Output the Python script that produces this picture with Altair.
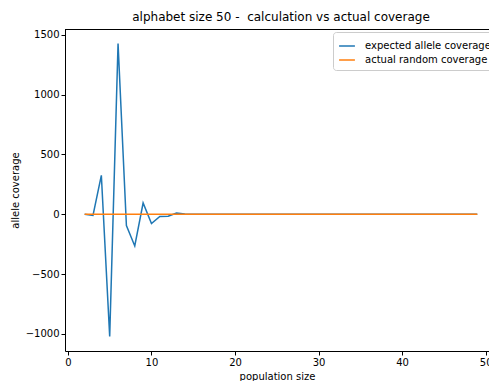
import altair as alt
import pandas as pd

population = list(range(2, 50))
expected = [0, -10, 325, -1020, 1425, -95, -265, 94, -78, -19, -17, 11, 2,
            0, 0, 0, 0, 0, 0, 0, 0, 0, 0, 0, 0, 0, 0, 0, 0, 0, 0, 0, 0, 0, 0,
            0, 0, 0, 0, 0, 0, 0, 0, 0, 0, 0, 0, 0]
actual = [0.04, 0.06, 0.08, 0.10, 0.11, 0.13, 0.15, 0.16, 0.18, 0.20, 0.21, 0.22,
          0.24, 0.25, 0.27, 0.28, 0.29, 0.31, 0.32, 0.33, 0.34, 0.35, 0.37, 0.38,
          0.39, 0.40, 0.41, 0.42, 0.43, 0.44, 0.45, 0.46, 0.47, 0.48, 0.48, 0.49,
          0.50, 0.51, 0.52, 0.53, 0.53, 0.54, 0.55, 0.56, 0.56, 0.57, 0.58, 0.59]
series_names = ["expected allele coverage", "actual random coverage"]
colors = ["#1f77b4", "#ff7f0e"]
x_ticks = [0, 10, 20, 30, 40, 50]
y_ticks = [-1000, -500, 0, 500, 1000, 1500]

df_exp = pd.DataFrame({"population size": population, "value": expected, "series": series_names[0]})
df_act = pd.DataFrame({"population size": population, "value": actual, "series": series_names[1]})

xenc = alt.X("population size:Q",
             scale=alt.Scale(domain=[-0.35, 50.4], nice=False, zero=False),
             axis=alt.Axis(values=x_ticks, title="population size", format="d"))
yenc = alt.Y("value:Q",
             scale=alt.Scale(domain=[-1142, 1547], nice=False, zero=False),
             axis=alt.Axis(values=y_ticks, title="allele coverage", format="d"))
color = alt.Color("series:N",
                  scale=alt.Scale(domain=series_names, range=colors),
                  sort=series_names,
                  legend=alt.Legend(title=None, orient="none", legendX=268, legendY=3,
                                    symbolType="stroke", symbolStrokeWidth=1.5,
                                    symbolSize=250, labelFontSize=10, labelFont="DejaVu Sans",
                                    labelColor="#000000",
                                    fillColor="white", strokeColor="#cccccc", cornerRadius=3,
                                    padding=5, rowPadding=0, labelOffset=9,
                                    labelLimit=300))

l1 = alt.Chart(df_exp).mark_line(strokeWidth=1.5, clip=True).encode(x=xenc, y=yenc, color=color)
l2 = alt.Chart(df_act).mark_line(strokeWidth=1.5, clip=True).encode(x=xenc, y=yenc, color=color)
top = alt.Chart(df_exp).mark_rule(color="#000000", strokeWidth=1).encode(
    x=alt.value(0), x2=alt.value(424), y=alt.value(0.5))

chart = alt.layer(l1, l2, top).properties(
    width=424, height=322,
    title=alt.TitleParams("alphabet size 50 - \u00a0calculation vs actual coverage",
                          font="DejaVu Sans", fontSize=12, fontWeight="normal",
                          color="#000000", offset=5, dx=4),
    autosize=alt.AutoSizeParams(type="none"),
    padding={"left": 65, "top": 29, "right": 0, "bottom": 30},
).configure_view(
    stroke=None
).configure_axis(
    grid=False, domain=True, domainColor="#000000", domainWidth=1,
    tickColor="#000000", tickSize=4, tickWidth=1,
    labelFont="DejaVu Sans", labelFontSize=10, labelColor="#000000",
    titleFont="DejaVu Sans", titleFontSize=10, titleColor="#000000",
    titleFontWeight="normal", labelPadding=2
).configure_axisX(
    titlePadding=4
).configure_axisY(
    titlePadding=5
)

chart.save("out.html", embed_options={"renderer": "svg", "actions": False})
